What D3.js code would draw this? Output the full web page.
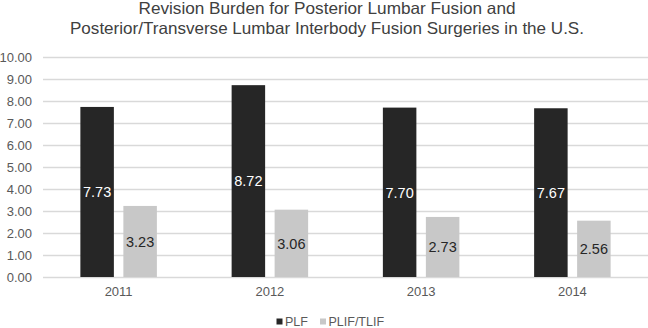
<!DOCTYPE html>
<html><head><meta charset="utf-8">
<script src="https://cdn.jsdelivr.net/npm/d3@7"></script>
<style>body{margin:0;background:#fff}svg{display:block;font-family:"Liberation Sans",Arial,sans-serif}</style>
</head><body><svg id="c" width="648" height="328"></svg>
<script>
const years = ["2011","2012","2013","2014"];
const seriesNames = ["PLF","PLIF/TLIF"];
const plf = [7.73, 8.72, 7.70, 7.67];
const plif = [3.23, 3.06, 2.73, 2.56];
const yTicks = [0,1,2,3,4,5,6,7,8,9,10];
const titleLines = ["Revision Burden for Posterior Lumbar Fusion and","Posterior/Transverse Lumbar Interbody Fusion Surgeries in the U.S."];
const colors = ["#262626","#c8c8c8"];
const labelColors = ["#ffffff","#262626"];

(function(){
const svg = d3.select("#c");
const mLeft = 43, mRight = 648, mTop = 57, mBottom = 277;
const x0 = d3.scaleBand().domain(years).range([mLeft, mRight]).paddingInner(0).paddingOuter(0);
const y = d3.scaleLinear().domain([0,10]).range([mBottom, mTop]);
const barW = 33.5, gap = 9.5;
const x1 = d3.scaleOrdinal().domain(seriesNames).range([-(gap/2+barW), gap/2]);

// title
const tw = [377, 514];
svg.append("g").selectAll("text").data(titleLines).join("text")
  .attr("x", 327).attr("y", (d,i)=> 13.5 + i*20.5)
  .attr("text-anchor","middle").attr("fill","#404040").attr("font-size",16.5)
  .attr("textLength",(d,i)=>tw[i]).attr("lengthAdjust","spacingAndGlyphs")
  .text(d=>d);

// grid
const yAxis = d3.axisLeft(y).tickValues(yTicks).tickFormat(d3.format(".2f")).tickSize(-(mRight-mLeft)).tickPadding(11);
const ga = svg.append("g").attr("transform",`translate(${mLeft},0)`).call(yAxis);
ga.select(".domain").remove();
ga.selectAll(".tick line").attr("stroke","#d9d9d9").attr("stroke-width",1.3);
ga.selectAll(".tick text").attr("fill","#595959").attr("font-size",13).attr("font-family","Liberation Sans, Arial, sans-serif");

// x axis labels
const xAxis = d3.axisBottom(x0).tickSize(0).tickPadding(10);
const gx = svg.append("g").attr("transform",`translate(0,${mBottom})`).call(xAxis);
gx.select(".domain").remove();
gx.selectAll(".tick text").attr("fill","#595959").attr("font-size",13).attr("font-family","Liberation Sans, Arial, sans-serif");

const data = [];
years.forEach((yr,i)=>{ data.push({yr, s:seriesNames[0], v:plf[i], k:0}); data.push({yr, s:seriesNames[1], v:plif[i], k:1}); });

svg.append("g").selectAll("rect").data(data).join("rect")
  .attr("x", d=> x0(d.yr) + x0.bandwidth()/2 + x1(d.s))
  .attr("width", barW)
  .attr("y", d=> y(d.v)).attr("height", d=> y(0)-y(d.v))
  .attr("fill", d=> colors[d.k]);

svg.append("g").selectAll("text").data(data).join("text")
  .attr("x", d=> x0(d.yr) + x0.bandwidth()/2 + x1(d.s) + barW/2)
  .attr("y", d=> (y(d.v)+y(0))/2).attr("dy","0.36em")
  .attr("text-anchor","middle").attr("font-size",14.5)
  .attr("fill", d=> labelColors[d.k])
  .text(d=> d3.format(".2f")(d.v));

// legend
const legX = [276.5, 320];
const lg = svg.append("g").selectAll("g").data(seriesNames).join("g")
  .attr("transform",(d,i)=>`translate(${legX[i]},321.5)`);
lg.append("rect").attr("x",0).attr("y",-3).attr("width",6).attr("height",6).attr("fill",(d,i)=>colors[i]);
lg.append("text").attr("x",8.5).attr("y",0).attr("dy","0.36em").attr("font-size",12.5).attr("fill","#595959").text(d=>d);
})();
</script></body></html>
